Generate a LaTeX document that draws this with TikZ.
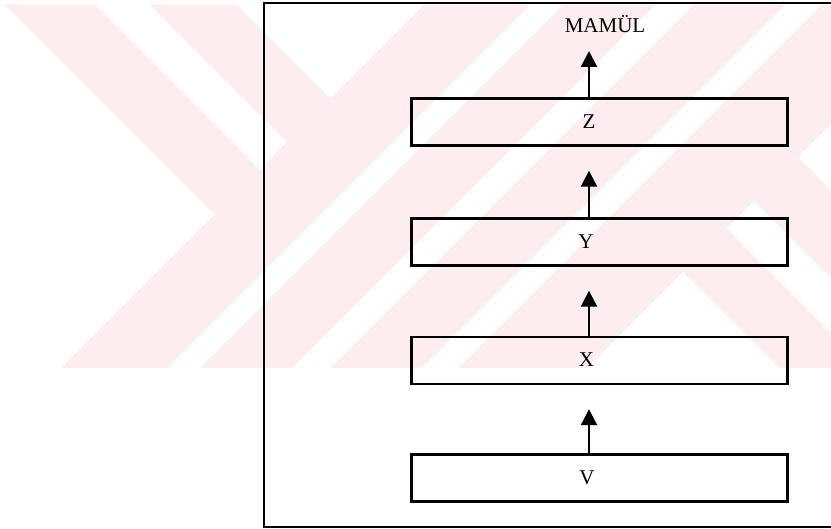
\documentclass[tikz,border=0pt]{standalone}
\usepackage{fontspec}
\setmainfont{Liberation Serif}
\usetikzlibrary{arrows.meta}
\definecolor{wmpink}{RGB}{253,236,240}
\begin{document}
\begin{tikzpicture}[x=1pt,y=-1pt,
  stagebox/.style={draw, line width=2.4pt, minimum width=376pt, minimum height=47pt, inner sep=0pt},
  stagelabel/.style={font=\fontsize{21}{25}\selectfont, anchor=base, inner sep=0pt},
  flow/.style={line width=2.2pt, -{Triangle[length=16pt,width=16pt]}}]
\useasboundingbox (0,0) rectangle (831,529);
\clip (0,0) rectangle (831,529);

% background pattern of diagonal bands
\begin{scope}
  \clip (5,5) rectangle (831,368);
  \fill[wmpink] (5,5) rectangle (831,368);
  % left chevron gaps
  \fill[white] (0,0) -- (214.5,214.5) -- (61,368) -- (0,368) -- cycle;
  \fill[white] (90,0) -- (145,0) -- (287,142) -- (259.5,169.5) -- cycle;
  \fill[white] (232,0) -- (330.5,98.5) -- (429,0) -- cycle;
  % rising gaps
  \fill[white] (535,0) -- (568,0) -- (168,400) -- (135,400) -- cycle;
  \fill[white] (660,0) -- (698,0) -- (298,400) -- (260,400) -- cycle;
  \fill[white] (790,0) -- (826,0) -- (426,400) -- (390,400) -- cycle;
  % right chevron gaps
  \fill[white] (683,272) -- (811,400) -- (555,400) -- cycle;
  \fill[white] (726.5,228.5) -- (754,201) -- (953,400) -- (898,400) -- cycle;
  \fill[white] (798,157) -- (955,0) -- (1000,0) -- (1000,359) -- cycle;
\end{scope}

% outer frame, open to the right
\draw[line width=2.2pt] (845,3) -- (264,3) -- (264,527) -- (845,527);

% stages
\node[stagebox] (z) at (599.5,122) {};
\node[stagebox] (y) at (599.5,242) {};
\node[stagebox] (x) at (599.5,360.5) {};
\node[stagebox] (v) at (599.5,478) {};

\node[stagelabel] (zl) at (589,129) {Z};
\node[stagelabel] (yl) at (586,249) {Y};
\node[stagelabel] (xl) at (586.5,367) {X};
\node[stagelabel] (vl) at (587,485) {V};

\node[stagelabel] (m) at (605,33) {MAMÜL};
\coordinate (out) at (589,51);

% flow between stages
\draw[flow] (z.north -| out) -- (out);
\draw[flow, shorten >=24pt] (y.north -| out) -- (z.south -| out);
\draw[flow, shorten >=24pt] (x.north -| out) -- (y.south -| out);
\draw[flow, shorten >=24pt] (v.north -| out) -- (x.south -| out);
\end{tikzpicture}
\end{document}
